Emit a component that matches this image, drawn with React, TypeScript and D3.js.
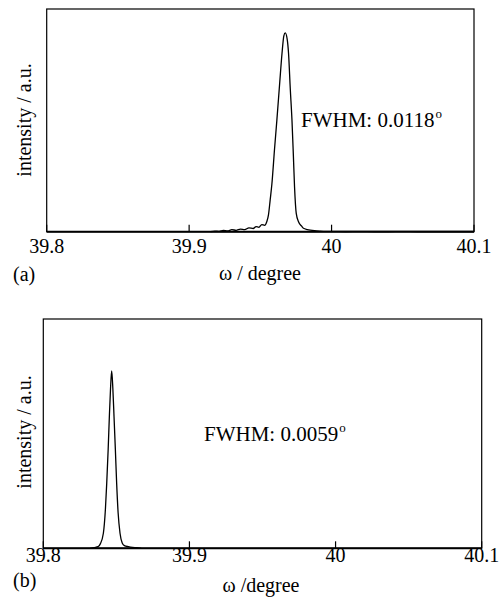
import React from "react";
import * as d3 from "d3";

// ---- data ----
const xTicks = [39.8, 39.9, 40.0, 40.1];
const xTickLabels = ["39.8", "39.9", "40", "40.1"];

const omegaA = [
  39.915, 39.918, 39.921, 39.924, 39.927, 39.93, 39.933, 39.936, 39.939, 39.942,
  39.945, 39.947, 39.949, 39.951, 39.953, 39.9545, 39.9557, 39.9569, 39.9581, 39.96,
  39.9616, 39.9635, 39.9652, 39.9665, 39.9675, 39.9688, 39.9698, 39.971, 39.9722, 39.9732,
  39.974, 39.9752, 39.9768, 39.979, 39.9803, 39.983, 39.985, 39.988, 39.992, 39.996,
  40.0, 40.01, 40.02, 40.03, 40.04, 40.05, 40.06, 40.07, 40.08, 40.09, 40.1,
];
const intensityA = [
  0.0, 0.003, 0.002, 0.006, 0.004, 0.01, 0.007, 0.013, 0.01, 0.019,
  0.016, 0.026, 0.022, 0.036, 0.032, 0.05, 0.085, 0.16, 0.24, 0.42,
  0.561, 0.74, 0.896, 0.985, 1.0, 0.97, 0.896, 0.72, 0.561, 0.38,
  0.226, 0.092, 0.05, 0.028, 0.017, 0.011, 0.008, 0.005, 0.003, 0.002,
  0.002, 0.001, 0.002, 0.001, 0.001, 0.002, 0.001, 0.001, 0.001, 0.001, 0.001,
];

const omegaB = [
  39.832, 39.835, 39.8375, 39.839, 39.8411, 39.8425, 39.8434, 39.8444, 39.8452, 39.846,
  39.8468, 39.8476, 39.8484, 39.8493, 39.8502, 39.8512, 39.8525, 39.854, 39.8555, 39.8582,
  39.861, 39.864, 39.867,
];
const intensityB = [
  0.0, 0.004, 0.009, 0.025, 0.085, 0.22, 0.366, 0.56, 0.742, 0.9,
  1.0, 0.9, 0.742, 0.56, 0.366, 0.2, 0.085, 0.03, 0.015, 0.009,
  0.005, 0.003, 0.0,
];

const FONT = '"Liberation Serif", "DejaVu Serif", serif';

type PanelProps = {
  left: number; right: number; top: number; bottom: number;
  yMax: number;
  omega: number[]; intensity: number[];
  tickBaseline: number;
  letter: string; letterY: number;
  xLabel: string; xLabelX: number; xLabelY: number;
  yLabelX: number; yLabelY: number;
  fwhm: string; fwhmX: number; fwhmY: number; supDx: number;
};

const ts = { fontFamily: FONT, fontSize: 20 } as React.CSSProperties;

function Panel(p: PanelProps) {
  const x = d3.scaleLinear().domain([39.8, 40.1]).range([p.left, p.right]);
  const y = d3.scaleLinear().domain([0, p.yMax]).range([p.bottom, p.top]);
  const pts = p.omega.map((w, i) => [w, p.intensity[i]] as [number, number]);
  const line = d3
    .line<[number, number]>()
    .x((d) => x(d[0]))
    .y((d) => y(d[1]))
    .curve(d3.curveMonotoneX);
  return (
    <g>
      <rect x={p.left} y={p.top} width={p.right - p.left} height={p.bottom - p.top}
        fill="none" stroke="#000" strokeWidth={1.2} />
      <line x1={p.left} x2={p.right} y1={p.bottom} y2={p.bottom} stroke="#000" strokeWidth={2} />
      {xTicks.map((t, i) => (
        <g key={i}>
          <line x1={x(t)} x2={x(t)} y1={p.bottom} y2={p.bottom - 7} stroke="#000" strokeWidth={1.2} />
          <text x={x(t)} y={p.tickBaseline} textAnchor="middle" style={ts}>
            {xTickLabels[i]}
          </text>
        </g>
      ))}
      <path d={line(pts) || ""} fill="none" stroke="#000" strokeWidth={1.3} />
      <text x={13} y={p.letterY} style={ts}>{p.letter}</text>
      <text x={p.xLabelX} y={p.xLabelY} textAnchor="middle" style={ts}>{p.xLabel}</text>
      <text transform={`translate(${p.yLabelX},${p.yLabelY}) rotate(-90)`} textAnchor="middle"
        style={ts}>intensity / a.u.</text>
      <text x={p.fwhmX} y={p.fwhmY} style={{ fontFamily: FONT, fontSize: 21 }}>
        {p.fwhm}
        <tspan dx={p.supDx} dy={-9} style={{ fontSize: 13 }}>o</tspan>
      </text>
    </g>
  );
}

export default function App() {
  return (
    <svg width={502} height={599} style={{ position: "absolute", left: 0, top: 0, background: "#fff", fontFamily: FONT }}>
      <Panel left={46.7} right={474} top={9} bottom={231.7} yMax={1.12}
        omega={omegaA} intensity={intensityA} tickBaseline={253}
        letter="(a)" letterY={281} xLabel="ω / degree" xLabelX={260} xLabelY={280}
        yLabelX={31} yLabelY={120}
        fwhm="FWHM: 0.0118" fwhmX={301} fwhmY={127} supDx={1} />
      <Panel left={43.3} right={481.7} top={319} bottom={548.3} yMax={1.293}
        omega={omegaB} intensity={intensityB} tickBaseline={562}
        letter="(b)" letterY={587} xLabel="ω /degree" xLabelX={261} xLabelY={592}
        yLabelX={31} yLabelY={432}
        fwhm="FWHM: 0.0059" fwhmX={204} fwhmY={441} supDx={1} />
    </svg>
  );
}
